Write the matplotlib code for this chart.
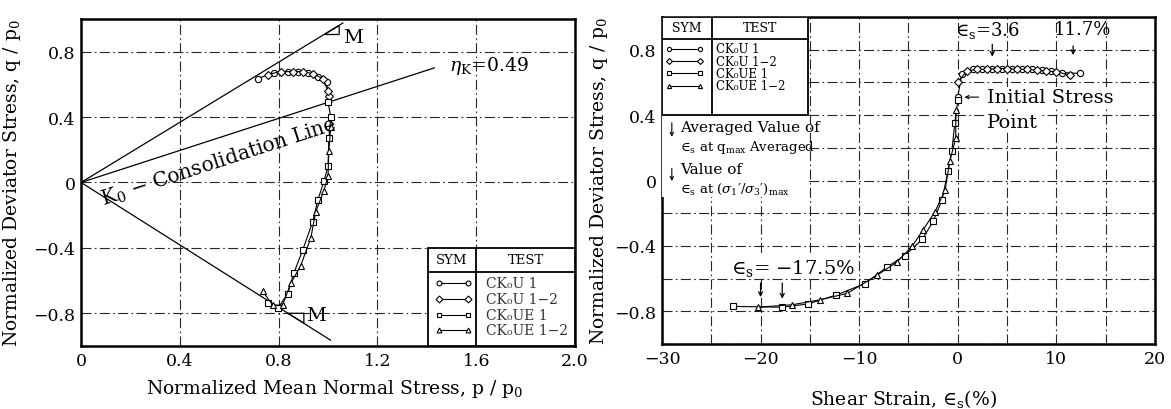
import matplotlib
matplotlib.use("Agg")
import matplotlib.pyplot as plt
from matplotlib.patches import Rectangle, Polygon
from matplotlib.ticker import MultipleLocator

plt.rcParams['font.family'] = ['DejaVu Serif', 'DejaVu Sans']
plt.rcParams['mathtext.fontset'] = 'dejavuserif'

# ---- left panel: stress paths (p/p0, q/p0) ----
p_cku1 = [1.0, 0.995, 0.958, 0.918, 0.877, 0.837, 0.78, 0.715]
q_cku1 = [0.49, 0.617, 0.647, 0.672, 0.678, 0.678, 0.672, 0.635]
p_cku12 = [1.003, 1.0, 0.979, 0.938, 0.897, 0.857, 0.808, 0.755]
q_cku12 = [0.53, 0.56, 0.635, 0.666, 0.678, 0.678, 0.678, 0.66]
p_ckue1 = [1.0, 1.011, 1.003, 1.0, 0.983, 0.958, 0.938, 0.897, 0.861, 0.837, 0.796, 0.755]
q_ckue1 = [0.49, 0.40, 0.27, 0.10, 0.006, -0.11, -0.24, -0.415, -0.556, -0.68, -0.77, -0.74]
p_ckue12 = [1.011, 1.003, 1.0, 0.983, 0.95, 0.93, 0.889, 0.849, 0.816, 0.776, 0.735]
q_ckue12 = [0.34, 0.19, 0.04, -0.05, -0.18, -0.34, -0.51, -0.617, -0.75, -0.75, -0.665]

m_comp = 0.92
m_ext = -0.955
eta_k = 0.49

# ---- right panel: shear strain (%) vs q/p0 ----
e_cku1 = [0.0, 0.4, 1.5, 2.5, 3.5, 4.5, 5.5, 6.5, 7.5, 8.5, 9.5, 10.6, 12.4]
s_cku1 = [0.51, 0.65, 0.68, 0.68, 0.685, 0.685, 0.68, 0.68, 0.68, 0.675, 0.67, 0.66, 0.655]
e_cku12 = [0.0, 0.9, 2.0, 3.0, 4.0, 5.0, 6.0, 7.0, 8.0, 9.0, 10.0, 11.4]
s_cku12 = [0.60, 0.67, 0.68, 0.68, 0.685, 0.685, 0.68, 0.68, 0.675, 0.67, 0.665, 0.645]
e_ckue1 = [0.0, -0.3, -0.6, -1.0, -1.6, -2.5, -3.6, -5.4, -7.2, -9.4, -12.3, -15.2, -17.8, -22.8]
s_ckue1 = [0.49, 0.35, 0.18, 0.056, -0.12, -0.25, -0.36, -0.46, -0.53, -0.63, -0.70, -0.755, -0.775, -0.77]
e_ckue12 = [-0.2, -0.2, -0.8, -1.3, -2.3, -3.5, -4.6, -6.2, -8.2, -11.2, -14.0, -16.8, -20.3]
s_ckue12 = [0.43, 0.26, 0.12, -0.06, -0.19, -0.30, -0.40, -0.50, -0.58, -0.69, -0.73, -0.76, -0.775]

series_names = ["CK\u2080U 1", "CK\u2080U 1\u22122", "CK\u2080UE 1", "CK\u2080UE 1\u22122"]
series_markers = ["o", "D", "s", "^"]

fig = plt.figure(figsize=(11.71, 4.10), dpi=100)
ax1 = fig.add_axes([0.0692, 0.1537, 0.4219, 0.7976])
ax2 = fig.add_axes([0.5653, 0.1585, 0.421, 0.7976])

grid_kw = dict(color='0.15', lw=0.8, linestyle=(0, (9, 3, 1.5, 3)))
mk_kw = dict(color='black', lw=0.8, ms=4.5, mfc='white', mec='black', mew=0.8)

for ax in (ax1, ax2):
    for s in ax.spines.values():
        s.set_linewidth(1.8)
    ax.tick_params(length=0, labelsize=12.5, pad=4)
    ax.set_axisbelow(True)

# ---------------- left ----------------
ax1.set_xlim(0, 2.0)
ax1.set_ylim(-1.0, 1.0)
ax1.set_xticks([0, 0.4, 0.8, 1.2, 1.6, 2.0])
ax1.set_xticklabels(["0", "0.4", "0.8", "1.2", "1.6", "2.0"])
ax1.set_yticks([-0.8, -0.4, 0, 0.4, 0.8])
ax1.set_yticklabels(["\u22120.8", "\u22120.4", "0", "0.4", "0.8"])
ax1.grid(True, **grid_kw)

ax1.plot([0, 1.06], [0, m_comp * 1.06], color='black', lw=0.9)
ax1.plot([0, 1.01], [0, m_ext * 1.01], color='black', lw=0.9)
ax1.plot([0, 1.43], [0, eta_k * 1.43], color='black', lw=0.9)

ax1.add_patch(Polygon([(0.985, 0.905), (1.045, 0.905), (1.045, 0.96)], closed=True,
                      fill=False, lw=0.9))
ax1.text(1.06, 0.89, "M", fontsize=14, va='center', ha='left')
ax1.add_patch(Polygon([(0.837, -0.80), (0.902, -0.80), (0.902, -0.86)], closed=True,
                      fill=False, lw=0.9))
ax1.text(0.91, -0.81, "M", fontsize=14, va='center', ha='left')
ax1.text(1.49, 0.72, r"$\eta_{\rm K}$=0.49", fontsize=13.5, va='center', ha='left')
ax1.text(0.07, -0.04, "K$_0$ $-$ Consolidation Line", fontsize=14.5, rotation=18,
         rotation_mode='anchor', ha='left', va='top')

ax1.plot(p_cku1, q_cku1, marker='o', **mk_kw)
ax1.plot(p_cku12, q_cku12, marker='D', **dict(mk_kw, ms=4))
ax1.plot(p_ckue1, q_ckue1, marker='s', **dict(mk_kw, ms=4))
ax1.plot(p_ckue12, q_ckue12, marker='^', **mk_kw)

# legend table (left)
ax1.add_patch(Rectangle((1.405, -1.0), 0.595, 0.6, facecolor='white', edgecolor='black',
                        lw=1.3, zorder=3))
ax1.plot([1.6, 1.6], [-1.0, -0.4], color='black', lw=1.3, zorder=4)
ax1.plot([1.405, 2.0], [-0.545, -0.545], color='black', lw=1.3, zorder=4)
ax1.text(1.5, -0.47, "SYM", fontsize=9.5, ha='center', va='center', zorder=5)
ax1.text(1.8, -0.47, "TEST", fontsize=9.5, ha='center', va='center', zorder=5)
row_q = [-0.617, -0.71, -0.81, -0.90]
for rq, name, mk in zip(row_q, series_names, series_markers):
    ax1.plot([1.45, 1.565], [rq, rq], marker=mk, markevery=[0, 1], zorder=5,
             **dict(mk_kw, ms=3.5))
    ax1.text(1.64, rq, name, fontsize=10, ha='left', va='center', zorder=5, color='0.2')

ax1.set_xlabel("Normalized Mean Normal Stress, p / p$_0$", fontsize=13.5)
ax1.set_ylabel("Normalized Deviator Stress, q / p$_0$", fontsize=13.5)
ax1.xaxis.set_label_coords(0.513, -0.095)
ax1.yaxis.set_label_coords(-0.118, 0.5)

# ---------------- right ----------------
ax2.set_xlim(-30, 20)
ax2.set_ylim(-1.0, 1.0)
ax2.set_xticks([-30, -20, -10, 0, 10, 20])
ax2.set_xticklabels(["\u221230", "\u221220", "\u221210", "0", "10", "20"])
ax2.xaxis.set_minor_locator(MultipleLocator(5))
ax2.set_yticks([-0.8, -0.4, 0, 0.4, 0.8])
ax2.set_yticklabels(["\u22120.8", "\u22120.4", "0", "0.4", "0.8"])
ax2.yaxis.set_minor_locator(MultipleLocator(0.2))
ax2.tick_params(which='minor', length=0)
ax2.grid(True, which='both', **grid_kw)

ax2.plot(e_cku1, s_cku1, marker='o', **mk_kw)
ax2.plot(e_cku12, s_cku12, marker='D', **dict(mk_kw, ms=4))
ax2.plot(e_ckue1, s_ckue1, marker='s', **dict(mk_kw, ms=4))
ax2.plot(e_ckue12, s_ckue12, marker='^', **mk_kw)

# legend table (right)
ax2.add_patch(Rectangle((-30, -0.1), 14.8, 0.5, facecolor='white', edgecolor='none', zorder=3))
ax2.add_patch(Rectangle((-30, 0.4), 14.8, 0.6, facecolor='white', edgecolor='black',
                        lw=1.3, zorder=3))
ax2.plot([-24.9, -24.9], [0.4, 1.0], color='black', lw=1.3, zorder=4)
ax2.plot([-30, -15.2], [0.863, 0.863], color='black', lw=1.3, zorder=4)
ax2.text(-27.5, 0.935, "SYM", fontsize=9, ha='center', va='center', zorder=5)
ax2.text(-20.1, 0.935, "TEST", fontsize=9, ha='center', va='center', zorder=5)
row_s = [0.805, 0.73, 0.655, 0.58]
for rs, name, mk in zip(row_s, series_names, series_markers):
    ax2.plot([-29.3, -26.1], [rs, rs], marker=mk, markevery=[0, 1], zorder=5,
             **dict(mk_kw, ms=3))
    ax2.text(-24.5, rs, name, fontsize=8.5, ha='left', va='center', zorder=5)

ax2.annotate("", xy=(-29.0, 0.25), xytext=(-29.0, 0.37), zorder=5,
             arrowprops=dict(arrowstyle='->', lw=0.8, mutation_scale=6))
ax2.annotate("", xy=(-29.0, -0.02), xytext=(-29.0, 0.09), zorder=5,
             arrowprops=dict(arrowstyle='->', lw=0.8, mutation_scale=6))
ax2.text(-28.2, 0.33, "Averaged Value of", fontsize=11, ha='left', va='center', zorder=5)
ax2.text(-28.2, 0.21, "\u2208$_{\\rm s}$ at q$_{\\rm max}$ Averaged", fontsize=9.5,
         ha='left', va='center', zorder=5)
ax2.text(-28.2, 0.07, "Value of", fontsize=11, ha='left', va='center', zorder=5)
ax2.text(-28.2, -0.05, "\u2208$_{\\rm s}$ at ($\\sigma_1$\u2032/$\\sigma_3$\u2032)$_{\\rm max}$",
         fontsize=9.5, ha='left', va='center', zorder=5)

# annotations (right)
ax2.text(3.0, 0.925, "\u2208$_{\\rm s}$=3.6", fontsize=13, ha='center', va='center')
ax2.text(12.6, 0.925, "11.7%", fontsize=13, ha='center', va='center')
ax2.annotate("", xy=(3.5, 0.74), xytext=(3.5, 0.85),
             arrowprops=dict(arrowstyle='->', lw=0.9, mutation_scale=7))
ax2.annotate("", xy=(11.7, 0.75), xytext=(11.7, 0.84),
             arrowprops=dict(arrowstyle='->', lw=0.9, mutation_scale=7))
ax2.text(3.0, 0.51, "Initial Stress", fontsize=14, ha='left', va='center',
         bbox=dict(facecolor='white', edgecolor='none', pad=0.5))
ax2.text(3.0, 0.355, "Point", fontsize=14, ha='left', va='center',
         bbox=dict(facecolor='white', edgecolor='none', pad=0.5))
ax2.annotate("", xy=(0.4, 0.51), xytext=(2.4, 0.51),
             arrowprops=dict(arrowstyle='->', lw=0.8, mutation_scale=6))
ax2.text(-16.7, -0.53, "\u2208$_{\\rm s}$= \u221217.5%", fontsize=14, ha='center', va='center',
         bbox=dict(facecolor='white', edgecolor='none', pad=0.5))
ax2.annotate("", xy=(-20.0, -0.73), xytext=(-20.0, -0.61),
             arrowprops=dict(arrowstyle='->', lw=0.9, mutation_scale=7))
ax2.annotate("", xy=(-17.8, -0.74), xytext=(-17.8, -0.61),
             arrowprops=dict(arrowstyle='->', lw=0.9, mutation_scale=7))

ax2.set_xlabel("Shear Strain, \u2208$_{\\rm s}$(%)", fontsize=13.5)
ax2.set_ylabel("Normalized Deviator Stress, q / p$_0$", fontsize=13.5)
ax2.xaxis.set_label_coords(0.489, -0.13)
ax2.yaxis.set_label_coords(-0.105, 0.5)

fig.savefig("out.png", dpi=100)
